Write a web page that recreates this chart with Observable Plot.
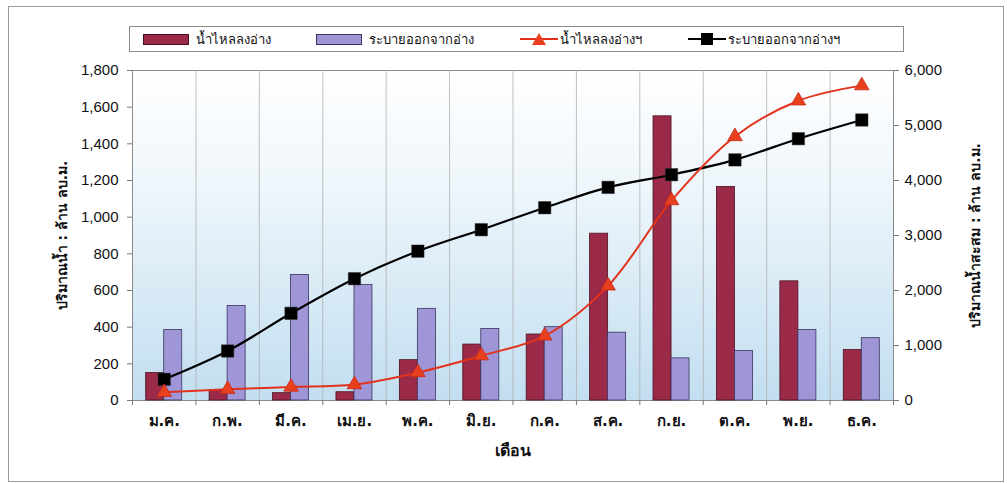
<!DOCTYPE html>
<html>
<head>
<meta charset="utf-8">
<script src="https://cdn.jsdelivr.net/npm/d3@7"></script>
<script src="https://cdn.jsdelivr.net/npm/@observablehq/plot@0.6"></script>
<style>
  body { margin: 0; background: #fff; }
  #wrap { position: relative; width: 1007px; height: 483px; overflow: hidden; font-family: "Liberation Sans", Arial, sans-serif; }
  #border { position: absolute; left: 8px; top: 6px; width: 994px; height: 474px; border: 1px solid #9a9a9a; pointer-events: none; }
  #legend { position: absolute; left: 129px; top: 26px; width: 773px; height: 24px; border: 1px solid #8c8c8c; background: #fff; }
  .item { position: absolute; top: 0; height: 24px; display: flex; align-items: center; font-size: 13px; color: #111; font-family: Tahoma, "DejaVu Sans", sans-serif; white-space: nowrap; }
  .sw { width: 46px; height: 11px; margin-right: 7px; box-sizing: border-box; }
  #chart { position: absolute; left: 0; top: 60px; }
</style>
</head>
<body>
<div id="wrap">
  <div id="legend"></div>
  <div id="chart"></div>
  <div id="border"></div>
</div>
<script>
// Monthly reservoir inflow and release (million m³), with running totals
const months = ["ม.ค.", "ก.พ.", "มี.ค.", "เม.ย.", "พ.ค.", "มิ.ย.", "ก.ค.", "ส.ค.", "ก.ย.", "ต.ค.", "พ.ย.", "ธ.ค."];
const inflow = [150, 55, 40, 45, 220, 305, 360, 910, 1550, 1165, 650, 275];
const release = [385, 515, 685, 630, 500, 390, 400, 370, 230, 270, 385, 340];
const inflowCum = [150, 205, 245, 290, 510, 815, 1175, 2085, 3635, 4800, 5450, 5725];
const releaseCum = [385, 900, 1585, 2215, 2715, 3105, 3505, 3875, 4105, 4375, 4760, 5100];

const leftTicks = [0, 200, 400, 600, 800, 1000, 1200, 1400, 1600, 1800];
const rightTicks = [0, 1000, 2000, 3000, 4000, 5000, 6000];

const seriesNames = ["น้ำไหลลงอ่าง", "ระบายออกจากอ่าง", "น้ำไหลลงอ่างฯ", "ระบายออกจากอ่างฯ"];
const colors = { inflow: "#9a2a47", release: "#9e96d6", inflowLine: "#e2321c", releaseLine: "#000000" };

const leftTitle = "ปริมาณน้ำ : ล้าน ลบ.ม.";
const rightTitle = "ปริมาณน้ำสะสม : ล้าน ลบ.ม.";
const xTitle = "เดือน";

// right axis maps 0–6,000 onto the left 0–1,800 range
const ratio = 1800 / 6000;
const fmt = d3.format(",");
const thaiFont = "Tahoma, 'DejaVu Sans', sans-serif";

const rows = months.map((m, i) => ({
  i, month: m,
  inflow: inflow[i], release: release[i],
  inflowCum: inflowCum[i], releaseCum: releaseCum[i]
}));

const barHalf = 0.284;

const chart = Plot.plot({
  width: 1007,
  height: 423,
  marginLeft: 132,
  marginRight: 114,
  marginTop: 10,
  marginBottom: 83,
  x: { domain: [0, 12], axis: null },
  y: { domain: [0, 1800], axis: null },
  style: { fontFamily: "'Liberation Sans', Arial, sans-serif", fontSize: "15px", background: "transparent", color: "#111" },
  marks: [
    Plot.frame({ fill: "url(#plotBg)", stroke: "#8a8a8a" }),
    Plot.ruleX(d3.range(1, 12), { stroke: "#b0b0b0", strokeWidth: 0.8 }),
    Plot.rectY(rows, { x1: d => d.i + 0.5 - barHalf, x2: d => d.i + 0.5, y1: 0, y2: "inflow", fill: colors.inflow, stroke: "#4a1020", strokeWidth: 0.8 }),
    Plot.rectY(rows, { x1: d => d.i + 0.5, x2: d => d.i + 0.5 + barHalf, y1: 0, y2: "release", fill: colors.release, stroke: "#3a3560", strokeWidth: 0.8 }),
    // cumulative series on the right-hand scale
    Plot.line(rows, { x: d => d.i + 0.5, y: d => d.releaseCum * ratio, stroke: colors.releaseLine, strokeWidth: 2.2, curve: "catmull-rom" }),
    Plot.line(rows, { x: d => d.i + 0.5, y: d => d.inflowCum * ratio, stroke: colors.inflowLine, strokeWidth: 2, curve: "catmull-rom" }),
    Plot.dot(rows, { x: d => d.i + 0.5, y: d => d.releaseCum * ratio, symbol: "square", r: 7, fill: "#000", stroke: "#333", strokeWidth: 0.5 }),
    Plot.dot(rows, { x: d => d.i + 0.5, y: d => d.inflowCum * ratio, symbol: "triangle", r: 5.4, fill: "#e8401c", stroke: "#c8281a", strokeWidth: 0.8 }),
    // left axis
    Plot.axisY(leftTicks, { anchor: "left", tickSize: 5, tickPadding: 9, tickFormat: fmt, stroke: "#777", label: null, fontSize: 15 }),
    // right axis
    Plot.axisY(rightTicks.map(v => v * ratio), { anchor: "right", tickSize: 5, tickPadding: 6, tickFormat: v => fmt(Math.round(v / ratio)), stroke: "#777", label: null, fontSize: 15 }),
    // boundary ticks along the bottom
    Plot.axisX(d3.range(0, 13), { anchor: "bottom", tickSize: 5, tickFormat: () => "", stroke: "#777", label: null }),
    Plot.text(rows, { x: d => d.i + 0.5, text: "month", frameAnchor: "bottom", dy: 25, fontSize: 15, fontWeight: "bold", fontFamily: thaiFont, fill: "#111" }),
    Plot.text([xTitle], { frameAnchor: "bottom", dy: 55, fontSize: 16, fontWeight: "bold", fontFamily: thaiFont, fill: "#111" }),
    Plot.text([leftTitle], { frameAnchor: "left", textAnchor: "middle", dx: -70, rotate: -90, fontSize: 14, fontWeight: "bold", fontFamily: thaiFont, fill: "#111" }),
    Plot.text([rightTitle], { frameAnchor: "right", textAnchor: "middle", dx: 82, rotate: -90, fontSize: 14, fontWeight: "bold", fontFamily: thaiFont, fill: "#111" })
  ]
});

// vertical wash behind the plot area
const ns = "http://www.w3.org/2000/svg";
const defs = document.createElementNS(ns, "defs");
const grad = document.createElementNS(ns, "linearGradient");
grad.setAttribute("id", "plotBg");
grad.setAttribute("x1", "0"); grad.setAttribute("y1", "0");
grad.setAttribute("x2", "0"); grad.setAttribute("y2", "1");
[["0%", "#ffffff"], ["35%", "#eef6fb"], ["100%", "#c2def0"]].forEach(([o, c]) => {
  const s = document.createElementNS(ns, "stop");
  s.setAttribute("offset", o); s.setAttribute("stop-color", c);
  grad.appendChild(s);
});
defs.appendChild(grad);
chart.insertBefore(defs, chart.firstChild);
document.getElementById("chart").appendChild(chart);

// legend
const legend = document.getElementById("legend");
const legendItems = [
  { left: 13, kind: "bar", color: colors.inflow, stroke: "#4a1020" },
  { left: 186, kind: "bar", color: colors.release, stroke: "#3a3560" },
  { left: 390, kind: "line", color: colors.inflowLine, marker: "triangle" },
  { left: 558, kind: "line", color: colors.releaseLine, marker: "square" }
];
legendItems.forEach((it, k) => {
  const el = document.createElement("div");
  el.className = "item";
  el.style.left = it.left + "px";
  let sw;
  if (it.kind === "bar") {
    sw = document.createElement("div");
    sw.className = "sw";
    sw.style.background = it.color;
    sw.style.border = "1px solid " + it.stroke;
  } else {
    sw = document.createElementNS(ns, "svg");
    sw.setAttribute("width", "38"); sw.setAttribute("height", "14");
    sw.style.marginRight = "2px";
    const ln = document.createElementNS(ns, "line");
    ln.setAttribute("x1", 0); ln.setAttribute("x2", 38); ln.setAttribute("y1", 7); ln.setAttribute("y2", 7);
    ln.setAttribute("stroke", it.color); ln.setAttribute("stroke-width", 2);
    sw.appendChild(ln);
    const p = document.createElementNS(ns, "path");
    p.setAttribute("d", it.marker === "triangle" ? "M19,1 L26,13 L12,13 Z" : "M13,1 H25 V13 H13 Z");
    p.setAttribute("fill", it.marker === "triangle" ? "#e8401c" : "#000");
    sw.appendChild(p);
  }
  el.appendChild(sw);
  const t = document.createElement("span");
  t.textContent = seriesNames[k];
  el.appendChild(t);
  legend.appendChild(el);
});
</script>
</body>
</html>
